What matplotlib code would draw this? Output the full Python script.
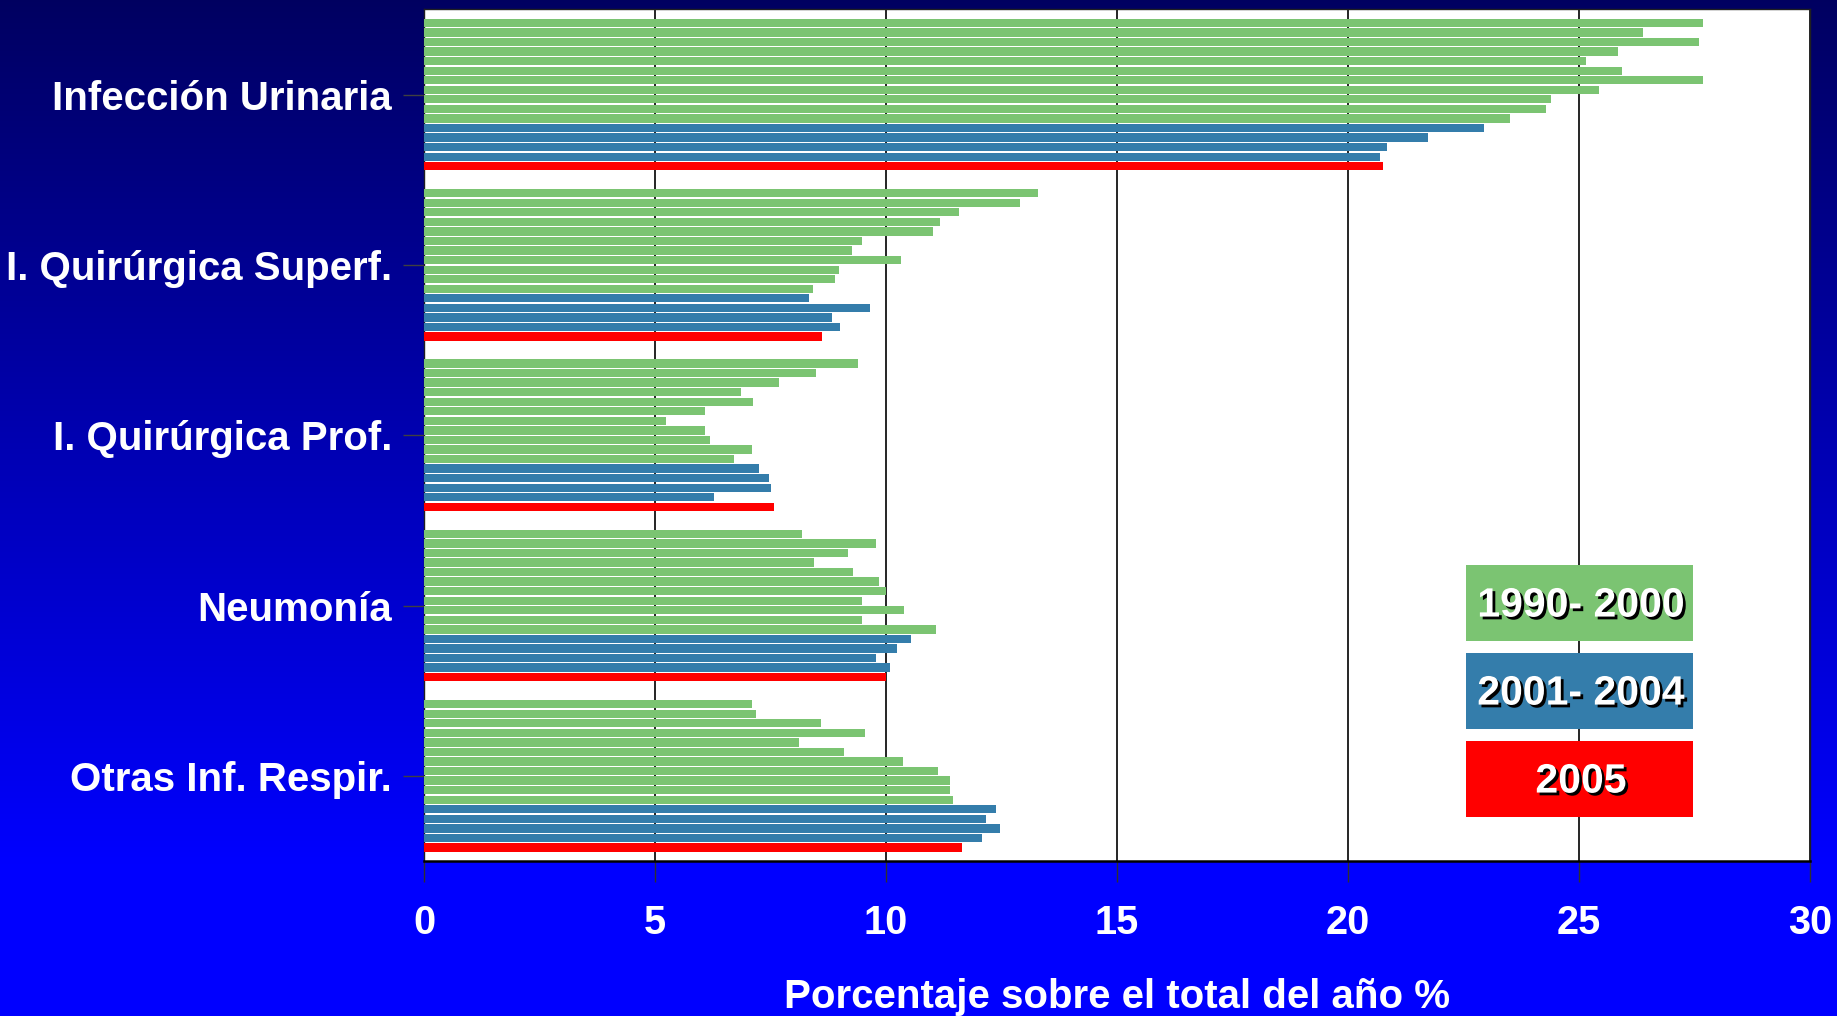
import numpy as np
import matplotlib
matplotlib.use("Agg")
import matplotlib.pyplot as plt
from matplotlib.patches import Rectangle
import matplotlib.patheffects as pe

plt.rcParams['font.family'] = ['Liberation Sans', 'DejaVu Sans']

categories = ["Infección Urinaria", "I. Quirúrgica Superf.", "I. Quirúrgica Prof.",
              "Neumonía", "Otras Inf. Respir."]

# 1990-2000 (11 years), 2001-2004 (4 years), 2005
v_1990_2000 = [
    [27.69, 26.39, 27.59, 25.84, 25.15, 25.92, 27.68, 25.43, 24.39, 24.29, 23.51],
    [13.30, 12.89, 11.59, 11.16, 11.02, 9.48, 9.26, 10.32, 8.99, 8.89, 8.43],
    [9.39, 8.49, 7.68, 6.86, 7.12, 6.09, 5.23, 6.09, 6.19, 7.09, 6.72],
    [8.19, 9.79, 9.18, 8.45, 9.28, 9.85, 10.01, 9.49, 10.39, 9.49, 11.09],
    [7.09, 7.19, 8.59, 9.55, 8.12, 9.09, 10.37, 11.12, 11.39, 11.39, 11.46],
]
v_2001_2004 = [
    [22.94, 21.73, 20.84, 20.70],
    [8.33, 9.66, 8.84, 9.00],
    [7.26, 7.47, 7.52, 6.27],
    [10.55, 10.24, 9.78, 10.08],
    [12.38, 12.16, 12.47, 12.08],
]
v_2005 = [20.75, 8.62, 7.58, 10.01, 11.65]

legend_labels = ["1990- 2000", "2001- 2004", "2005"]
colors = ["#7bc472", "#347dab", "#ff0000"]
xticks = [0, 5, 10, 15, 20, 25, 30]
xlabel = "Porcentaje sobre el total del año %"

W, H = 1837, 1016
fig = plt.figure(figsize=(W / 100, H / 100), dpi=100)

# background gradient
bg = fig.add_axes([0, 0, 1, 1], zorder=-10)
yy = np.linspace(0, 1, 512)
t = np.clip(yy / 0.85, 0, 1)
grad = np.zeros((512, 2, 3))
grad[:, :, 2] = (0.38 + 0.62 * t)[:, None]
bg.imshow(grad, aspect='auto', extent=[0, 1, 0, 1], origin='upper')
bg.set_axis_off()

ax = fig.add_axes([424 / W, 1 - 861 / H, (1810 - 424) / W, (861 - 9.4) / H])
ax.set_facecolor('white')

pitch = 0.0561
hfrac = 0.87
for i, cat in enumerate(categories):
    vals = list(v_1990_2000[i]) + list(v_2001_2004[i]) + [v_2005[i]]
    cols = [colors[0]] * len(v_1990_2000[i]) + [colors[1]] * len(v_2001_2004[i]) + [colors[2]]
    n = len(vals)
    ys = i + 0.5 + (np.arange(n) - (n - 1) / 2) * pitch
    ax.barh(ys, vals, height=pitch * hfrac, color=cols, edgecolor='none', zorder=3)

ax.set_ylim(len(categories), 0)
ax.set_xlim(0, 30)
ax.set_xticks(xticks)
ax.set_xticklabels([str(x) for x in xticks])
ax.set_yticks(np.arange(len(categories)) + 0.5)
ax.set_yticklabels(categories)
ax.xaxis.grid(True, color='black', linewidth=1.2, zorder=1)
ax.set_axisbelow(True)

ax.tick_params(axis='x', colors='#303030', length=15, width=1, pad=16,
               labelsize=28.5, labelcolor='white')
ax.tick_params(axis='y', colors='#404040', length=15, width=1, pad=8,
               labelsize=29, labelcolor='white')
for lab in ax.get_xticklabels() + ax.get_yticklabels():
    lab.set_fontweight('bold')

for s in ax.spines.values():
    s.set_color('#202020')
    s.set_linewidth(1)
ax.spines['bottom'].set_color('black')
ax.spines['bottom'].set_linewidth(1.8)

ax.set_xlabel(xlabel, fontsize=29, fontweight='bold', color='white', labelpad=26)

# legend boxes
boxes = [(0.3476, 0.2583), (0.2442, 0.1550), (0.1409, 0.0517)]
x0, x1 = 0.7518, 0.9156
for (top, bot), lab, c in zip(boxes, legend_labels, colors):
    ax.add_patch(Rectangle((x0, bot), x1 - x0, top - bot, transform=ax.transAxes,
                           facecolor=c, edgecolor='none', zorder=5))
    ax.text((x0 + x1) / 2 + 0.001, (top + bot) / 2 - 0.003, lab, transform=ax.transAxes,
            ha='center', va='center', fontsize=29.5, fontweight='bold', color='white',
            zorder=6,
            path_effects=[pe.withSimplePatchShadow(offset=(2, -2), shadow_rgbFace='black',
                                                   alpha=1.0)])

fig.savefig("out.png", dpi=100)
